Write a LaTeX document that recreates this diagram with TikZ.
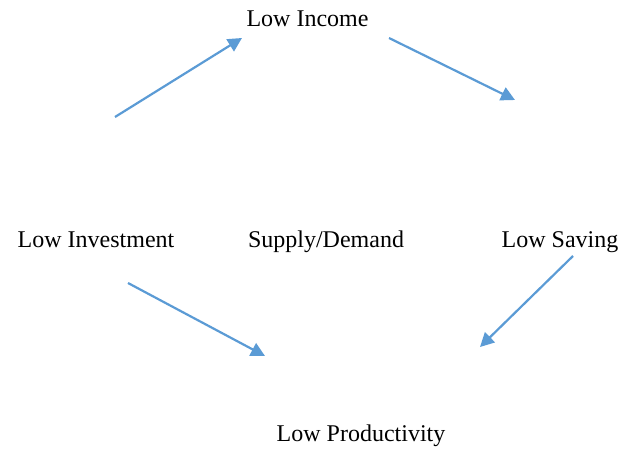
\documentclass[tikz,border=0pt]{standalone}
\usepackage{fontspec}
\setmainfont{Liberation Serif}
\usetikzlibrary{arrows.meta}
\definecolor{arrowblue}{RGB}{91,155,213}
\tikzset{
  lbl/.style={anchor=base, inner sep=0pt, font=\fontsize{24}{28}\selectfont},
  conn/.style={draw=arrowblue, line width=2.2pt, -{Triangle[length=14pt,width=14pt]}}
}
\begin{document}
\begin{tikzpicture}[x=1pt,y=1pt]
\useasboundingbox (0,0) rectangle (621,450);
\node[lbl] (inc) at (307.5,423) {Low Income};
\node[lbl] (inv) at (96,202) {Low Investment};
\node[lbl] (sd) at (326,202) {Supply/Demand};
\node[lbl] (sav) at (560,202) {Low Saving};
\node[lbl] (prod) at (361,8.5) {Low Productivity};
\coordinate (a1s) at (115,333);
\coordinate (a1e) at (242,412);
\coordinate (a2s) at (389,412);
\coordinate (a2e) at (515,350);
\coordinate (a3s) at (573,194);
\coordinate (a3e) at (480,103);
\coordinate (a4s) at (128,167);
\coordinate (a4e) at (265,94);
\draw[conn] (a1s) -- (a1e);
\draw[conn] (a2s) -- (a2e);
\draw[conn] (a3s) -- (a3e);
\draw[conn] (a4s) -- (a4e);
\end{tikzpicture}
\end{document}
